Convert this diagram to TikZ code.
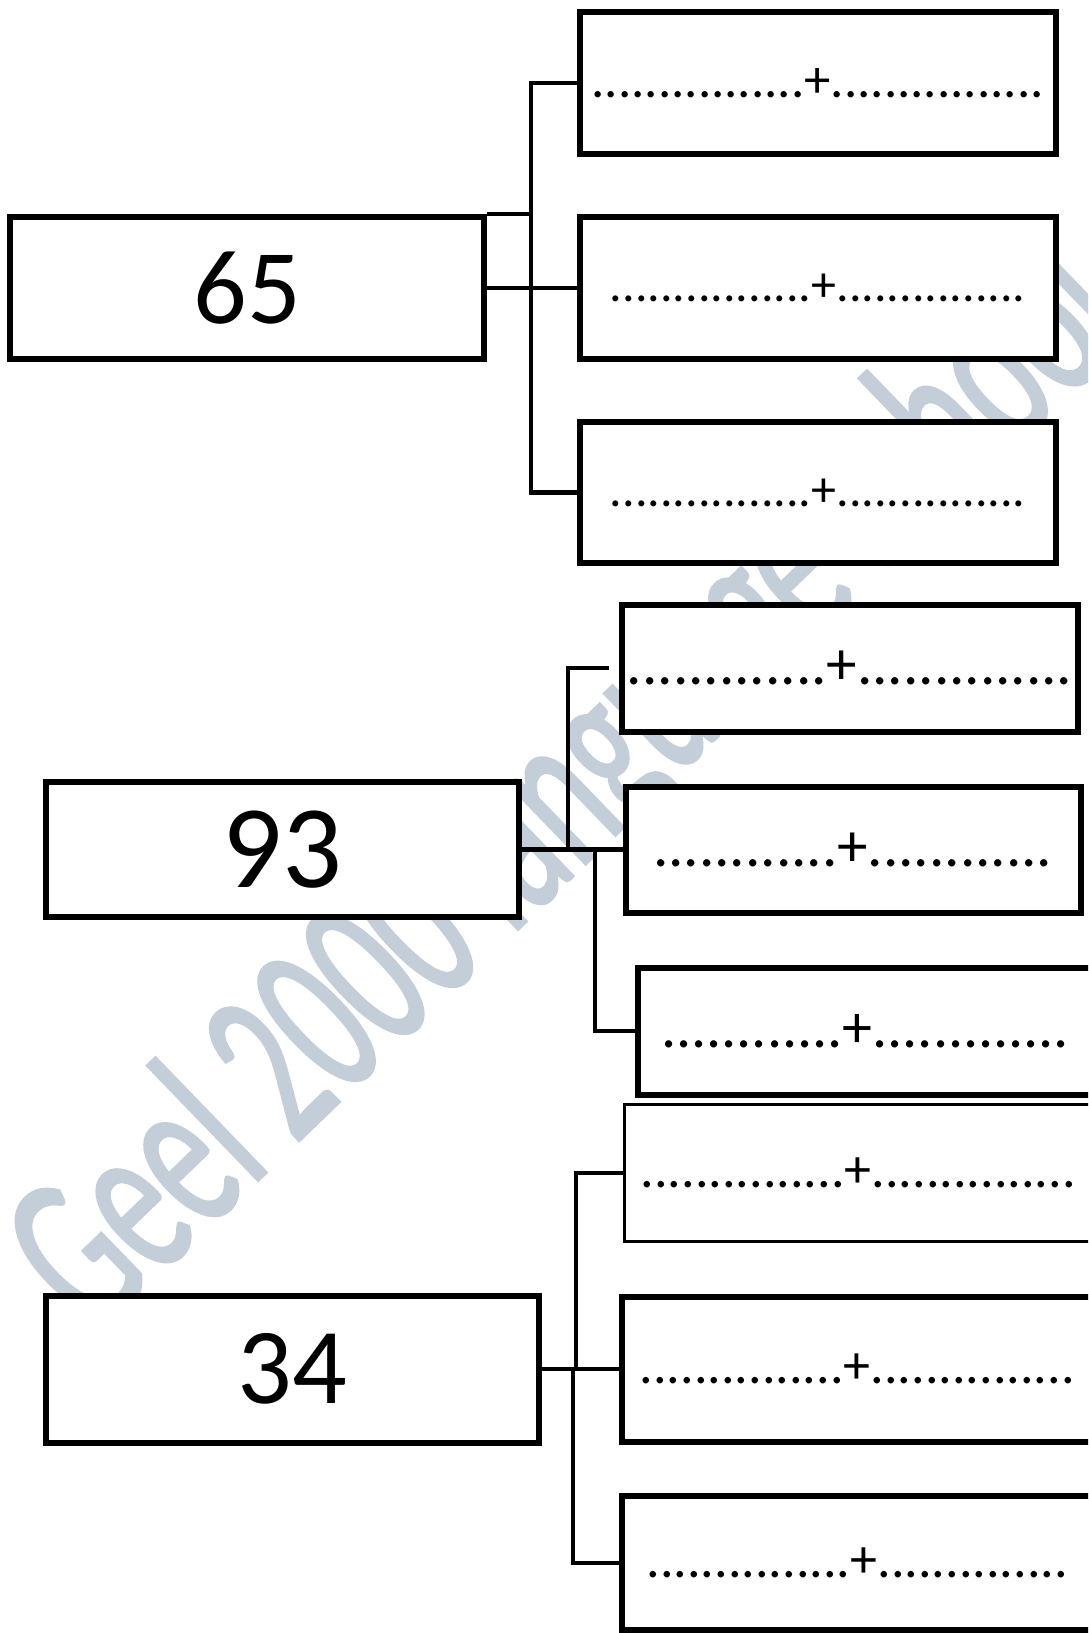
\documentclass[tikz,border=0pt]{standalone}
\usepackage{fontspec}
\setmainfont{Carlito}
\newfontfamily\wmfont[FakeStretch=0.58,FakeBold=1.2]{Carlito}
\definecolor{wmgray}{RGB}{196,206,216}
\begin{document}
\begin{tikzpicture}[x=1pt,y=-1pt,
  box/.style={draw,line width=6pt,fill=white,inner sep=0pt},
  link/.style={line width=4.5pt},
  big/.style={font=\fontsize{#1}{#1}\selectfont},
  gap/.style={font=\fontsize{#1}{#1}\selectfont}]
\useasboundingbox (0,0) rectangle (1088,1633);
\clip (0,0) rectangle (1088,1633);
% watermark behind the boxes
\node[rotate=44,anchor=base west,text=wmgray,inner sep=0pt,
  font=\wmfont\fontsize{230}{235}\selectfont] (wm) at (95,1338) {Geel 2000 language school};
% 65
\node[box,big=106,minimum width=474,minimum height=142] (n65) at (247,288) {65};
\node[box,gap=52.8,minimum width=476,minimum height=142] (a1) at (818,83) {................+................};
\node[box,gap=50,minimum width=476,minimum height=142] (a2) at (818,288) {................+...............};
\node[box,gap=50,minimum width=476,minimum height=141] (a3) at (818,492.5) {................+...............};
\coordinate (s1) at (531,288);
\draw[link] (n65.east) -- (a2.west);
\draw[link] (a1.west) -| (s1) |- (a3.west);
\draw[link] (n65.north east) -- (n65.north east -| s1);
% 93
\node[box,big=118,minimum width=473,minimum height=135] (n93) at (282,849.5) {93};
\node[box,gap=61,minimum width=456,minimum height=127] (b1) at (850,668) {.............+..............};
\node[box,gap=61,minimum width=455,minimum height=126] (b2) at (853,849.5) {............+............};
\node[box,gap=60,minimum width=455,minimum height=127] (b3) at (865.5,1031) {............+.............};
\coordinate (s2) at (568,849.5);
\coordinate (s3) at (595,849.5);
\coordinate (b1end) at (609,668);
\draw[link] (n93.east) -- (b2.west);
\draw[link] (s2) |- (b1end);
\draw[link] (s3) |- (b3.west);
% 34
\node[box,big=108,minimum width=493,minimum height=147] (n34) at (292,1369) {34};
\node[box,line width=3pt,gap=54,minimum width=469,minimum height=137] (c1) at (858.5,1173) {...............+...............};
\node[box,gap=54,minimum width=471,minimum height=145] (c2) at (857.5,1369) {...............+...............};
\node[box,gap=54,minimum width=471,minimum height=134] (c3) at (857.5,1563) {...............+..............};
\coordinate (s4) at (576,1369);
\coordinate (s5) at (573,1369);
\draw[link] (n34.east) -- (c2.west);
\draw[link] (s4) |- (c1.west);
\draw[link] (s5) |- (c3.west);
\end{tikzpicture}
\end{document}
